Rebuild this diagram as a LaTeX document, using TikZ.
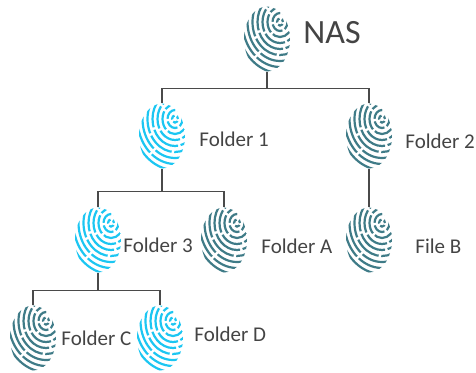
\documentclass[tikz,border=0pt]{standalone}
\usepackage{fontspec}
\setmainfont{Carlito}
\usetikzlibrary{shapes.geometric,positioning}
\definecolor{printdark}{HTML}{3F7B87}
\definecolor{printcyan}{HTML}{1CC6F2}
\definecolor{wire}{HTML}{4A4A4A}
\definecolor{labelgrey}{HTML}{444444}
\begin{document}
\begin{tikzpicture}[%
    x=1pt, y=-1pt,
    node distance=0pt and 14pt, % Labels sit beside the prints
    ]
% -------------------------------------------------
% Print and label styles
\tikzset{
  print/.style={shape=ellipse, minimum width=46pt, minimum height=65pt, inner sep=0pt,
    path picture={
      \foreach \r/\a/\p in {3/5/2, 7.5/13/3, 12.5/19/8, 17.5/23/4, 22.5/31/12,
                            27.5/27/6, 32.5/38/15, 37.5/33/9, 42.5/42/3, 47.5/37/20, 52.5/46/11} {
        \draw[#1, line width=2.2pt, dash pattern=on \a pt off 2.6pt, dash phase=\p pt]
          ([shift={(13pt,17pt)}]path picture bounding box.center) circle [x radius=\r pt, y radius=1.2*\r pt];
      }
    }},
  dark/.style={print=printdark},
  cyan/.style={print=printcyan},
  tag/.style={inner sep=0pt, font=\fontsize{21}{21}\selectfont, text=labelgrey},
  link/.style={draw=wire, line width=1.2pt}
}
\useasboundingbox (0,0) rectangle (476,372);
% -------------------------------------------------
% Start by placing the prints
\node [dark] (nas) at (267,39) {};
\node [cyan] (folder1) at (162,136) {};
\node [dark] (folder2) at (369,136) {};
\node [cyan] (folder3) at (98,240) {};
\node [dark] (foldera) at (224,240) {};
\node [dark] (fileb) at (369,240) {};
\node [dark] (folderc) at (33,338) {};
\node [cyan] (folderd) at (160,338) {};
% -------------------------------------------------
% Labels
\node [tag, font=\fontsize{34}{34}\selectfont, right=13pt of nas, yshift=6pt] (nastag) {NAS};
\node [tag, right=of folder1, yshift=-3pt] (folder1tag) {Folder 1};
\node [tag, right=13pt of folder2, yshift=-5pt] (folder2tag) {Folder 2};
\node [tag, right=2pt of folder3, yshift=-5pt] (folder3tag) {Folder 3};
\node [tag, right=of foldera, yshift=-6pt] (folderatag) {Folder A};
\node [tag, right=23pt of fileb, yshift=-6pt] (filebtag) {File B};
\node [tag, right=5pt of folderc] (folderctag) {Folder C};
\node [tag, right=11pt of folderd, yshift=4pt] (folderdtag) {Folder D};
% -------------------------------------------------
% Connectors
\draw [link] (nas.south) -- ++(0,16.5) coordinate (nasbus);
\draw [link] (folder1.north) |- (nasbus) -| (folder2.north);
\draw [link] (folder2.south) -- (fileb.north);
\draw [link] (folder1.south) -- ++(0,22.5) coordinate (onebus);
\draw [link] (folder3.north) |- (onebus) -| (foldera.north);
\draw [link] (folder3.south) -- ++(0,17.5) coordinate (threebus);
\draw [link] (folderc.north) |- (threebus) -| (folderd.north);
\end{tikzpicture}
\end{document}
